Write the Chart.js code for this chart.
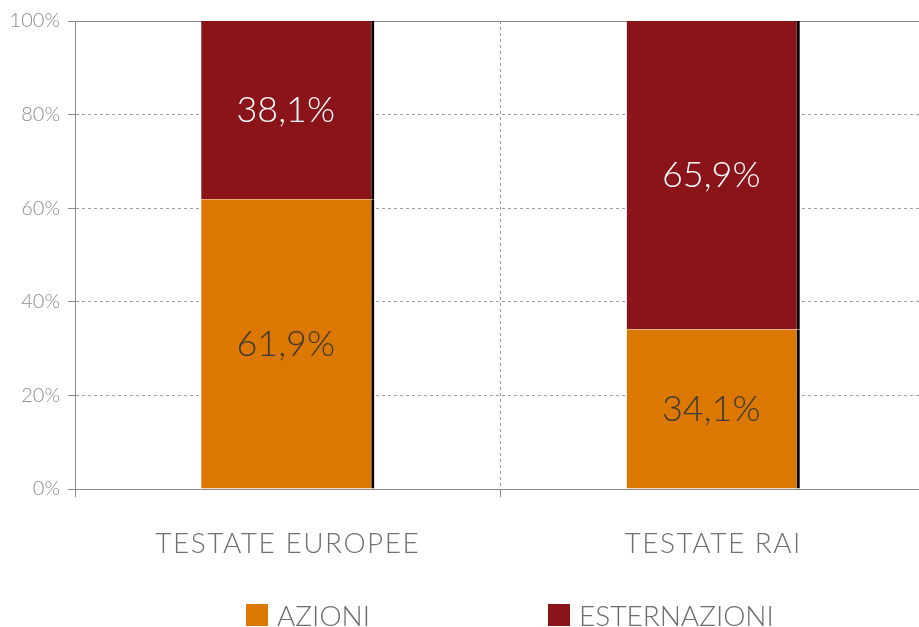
<!DOCTYPE html>
<html>
<head>
<meta charset="utf-8">
<script src="https://cdn.jsdelivr.net/npm/chart.js@4"></script>
<style>
  html, body { margin: 0; padding: 0; background: #fff; overflow: hidden; }
  #wrap { position: relative; width: 919px; height: 627px; overflow: hidden; }
  #chart { position: absolute; left: 0; top: 0; }
  .legend-item { position: absolute; top: 598px; display: flex; align-items: center;
    font-family: Lato, sans-serif; font-weight: 300; font-size: 28px; color: #6b6b6b; }
  .legend-box { width: 22px; height: 22px; margin-right: 9px; }
</style>
</head>
<body>
<div id="wrap">
  <canvas id="chart" width="926" height="627"></canvas>
  <div id="legend"></div>
</div>
<script>
const categories = ['TESTATE EUROPEE', 'TESTATE RAI'];
const azioni = [61.9, 34.1];
const esternazioni = [38.1, 65.9];
const yTicks = [0, 20, 40, 60, 80, 100];

const ORANGE = '#dc7800';
const RED = '#8b141b';
const FONT = 'Lato, sans-serif';

// value labels in the middle of each segment
const valueLabels = {
    id: 'valueLabels',
    afterDatasetsDraw(chart) {
        const ctx = chart.ctx;
        ctx.save();
        ctx.font = '300 36px ' + FONT;
        ctx.textAlign = 'center';
        ctx.textBaseline = 'middle';
        chart.data.datasets.forEach((ds, i) => {
            chart.getDatasetMeta(i).data.forEach((bar, j) => {
                const txt = ds.data[j].toFixed(1).replace('.', ',') + '%';
                ctx.fillStyle = ds.labelColor;
                ctx.fillText(txt, bar.x - 2, (bar.y + bar.base) / 2);
            });
        });
        ctx.restore();
        // category labels (drawn in a later layer) get a bit of tracking
        ctx.letterSpacing = '1.5px';
    },
    afterDraw(chart) {
        chart.ctx.letterSpacing = '0px';
    }
};

const ctx = document.getElementById('chart').getContext('2d');
const chart = new Chart(ctx, {
    type: 'bar',
    data: {
        labels: categories,
        datasets: [{
            label: 'AZIONI',
            data: azioni,
            backgroundColor: ORANGE,
            labelColor: '#3a3a3a',
            borderColor: '#000',
            borderWidth: { top: 0, left: 0, bottom: 0, right: 3 },
            borderSkipped: false,
            barPercentage: 0.407,
            categoryPercentage: 1
        }, {
            label: 'ESTERNAZIONI',
            data: esternazioni,
            backgroundColor: RED,
            labelColor: '#ffffff',
            borderColor: '#000',
            borderWidth: { top: 0, left: 0, bottom: 0, right: 3 },
            borderSkipped: false,
            barPercentage: 0.407,
            categoryPercentage: 1
        }]
    },
    options: {
        responsive: false,
        animation: false,
        layout: { padding: { top: 21, right: 0, bottom: 0, left: 0 } },
        plugins: {
            legend: { display: false },
            tooltip: { enabled: false }
        },
        scales: {
            x: {
                stacked: true,
                afterFit: s => { s.height = 138; },
                grid: {
                    color: '#9a9a9a',
                    tickLength: 8,
                    tickColor: '#8a8a8a',
                    tickBorderDash: []
                },
                border: { color: '#8a8a8a', width: 1, dash: [3, 3] },
                ticks: {
                    z: 1,
                    color: '#707070',
                    font: { family: FONT, size: 28, weight: 300 },
                    padding: 30
                }
            },
            y: {
                stacked: true,
                min: 0,
                max: 100,
                afterFit: s => { s.width = 75; },
                afterBuildTicks: s => { s.ticks = yTicks.map(v => ({ value: v })); },
                grid: {
                    color: ctx => (ctx.tick && ctx.tick.value === 100) ? '#8a8a8a' : '#a0a0a0',
                    tickLength: 7,
                    tickColor: '#8a8a8a',
                    tickBorderDash: []
                },
                border: {
                    color: '#8a8a8a',
                    width: 1,
                    dash: ctx => (ctx.tick && (ctx.tick.value === 100 || ctx.tick.value === 0)) ? [] : [3, 3]
                },
                ticks: {
                    color: '#8c8c8c',
                    font: { family: FONT, size: 20, weight: 300 },
                    padding: 8,
                    callback: v => v + '%'
                }
            }
        }
    },
    plugins: [valueLabels]
});

// legend as html below the chart
const legendEl = document.getElementById('legend');
const legendLeft = [246, 548];
chart.data.datasets.forEach((ds, i) => {
    const item = document.createElement('div');
    item.className = 'legend-item';
    item.style.left = legendLeft[i] + 'px';
    item.innerHTML = '<div class="legend-box" style="background:' + ds.backgroundColor + '"></div><span>' + ds.label + '</span>';
    legendEl.appendChild(item);
});
</script>
</body>
</html>
